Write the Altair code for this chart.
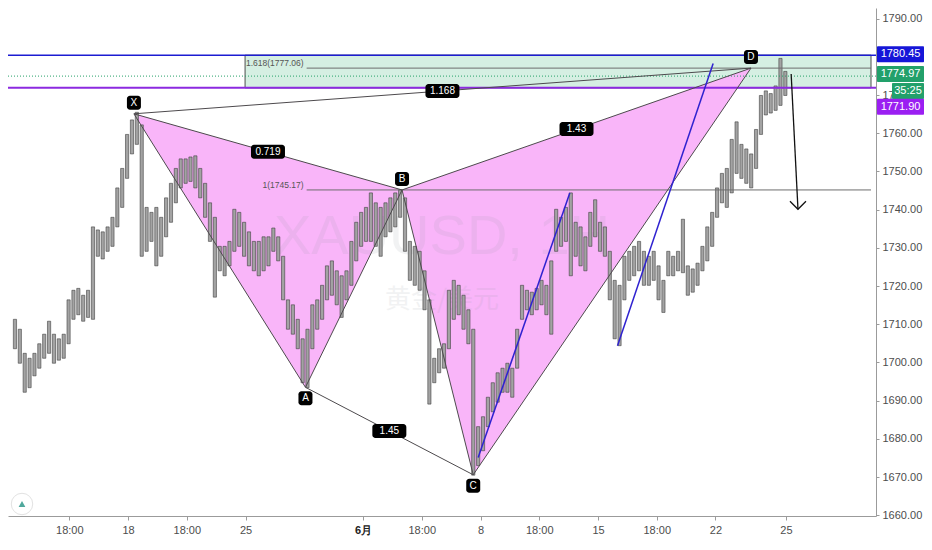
import altair as alt
import pandas as pd

# ---------------- data ----------------
# price bars (about 5 hours each); time axis in trading days, 0 = 18 May
bar_high = [1711.3, 1708.7, 1702.4, 1701.1, 1702.4, 1704.9, 1707.4, 1710.8, 1707.4, 1706.2,
            1707.4, 1716.4, 1718.9, 1719.4, 1717.6, 1718.9, 1735.5, 1734.7, 1734.2, 1735.5,
            1738.0, 1745.7, 1750.8, 1759.7, 1763.5, 1765.5, 1762.2, 1740.6, 1739.3, 1740.6,
            1738.0, 1743.1, 1746.9, 1750.8, 1753.3, 1753.3, 1753.8, 1754.1, 1750.8, 1746.9,
            1741.8, 1738.0, 1730.4, 1730.4, 1731.7, 1740.1, 1739.3, 1736.7, 1734.2, 1731.7,
            1731.7, 1732.9, 1732.9, 1735.2, 1732.9, 1727.8, 1716.4, 1715.1, 1711.3, 1706.2,
            1708.7, 1715.1, 1716.4, 1720.2, 1725.3, 1726.6, 1724.0, 1722.7, 1724.0, 1731.7,
            1736.7, 1739.3, 1740.6, 1744.4, 1741.8, 1740.6, 1741.8, 1743.1, 1744.4, 1745.2,
            1743.1, 1731.7, 1730.4, 1729.1, 1724.0, 1716.4, 1701.1, 1703.6, 1704.9, 1718.9,
            1721.5, 1720.2, 1717.6, 1713.8, 1708.7, 1683.2, 1685.8, 1690.9, 1694.7, 1697.3,
            1698.5, 1699.8, 1698.5, 1708.7, 1720.2, 1718.9, 1718.4, 1719.4, 1721.5, 1720.2,
            1726.6, 1740.1, 1738.0, 1740.6, 1744.4, 1736.7, 1735.5, 1732.9, 1739.3, 1742.6,
            1736.7, 1735.5, 1729.1, 1721.5, 1720.2, 1727.8, 1729.1, 1730.4, 1731.7, 1729.1,
            1727.8, 1729.1, 1725.3, 1721.5, 1729.1, 1727.8, 1729.1, 1737.5, 1725.3, 1724.5,
            1726.0, 1730.4, 1735.5, 1739.3, 1745.7, 1749.5, 1750.8, 1758.4, 1763.0, 1757.1,
            1755.9, 1754.6, 1761.0, 1769.9, 1771.1, 1770.4, 1772.4, 1779.6, 1776.2]
bar_low = [1703.6, 1699.8, 1692.2, 1693.4, 1696.5, 1698.5, 1701.1, 1702.4, 1699.8, 1700.6,
           1701.1, 1704.9, 1711.3, 1712.5, 1710.8, 1711.8, 1711.3, 1727.8, 1727.1, 1729.1,
           1730.4, 1735.5, 1740.6, 1748.2, 1754.6, 1757.1, 1727.8, 1729.1, 1731.7, 1725.3,
           1727.8, 1732.9, 1736.7, 1741.8, 1745.7, 1746.9, 1747.4, 1745.7, 1743.1, 1738.0,
           1731.7, 1717.1, 1724.0, 1722.7, 1725.3, 1729.1, 1730.4, 1727.8, 1725.3, 1724.0,
           1722.7, 1724.0, 1725.3, 1729.1, 1726.6, 1716.4, 1708.7, 1707.4, 1703.6, 1694.7,
           1693.4, 1703.6, 1708.7, 1711.3, 1716.4, 1717.6, 1715.1, 1711.8, 1716.4, 1720.2,
           1726.6, 1730.4, 1731.7, 1731.7, 1730.4, 1727.8, 1732.9, 1734.2, 1735.5, 1738.0,
           1729.1, 1721.5, 1720.2, 1718.9, 1713.8, 1689.1, 1694.7, 1697.3, 1698.5, 1703.6,
           1711.3, 1712.5, 1708.7, 1704.9, 1670.5, 1673.0, 1676.9, 1683.2, 1687.1, 1689.6,
           1692.2, 1692.2, 1690.9, 1698.5, 1711.3, 1713.8, 1712.5, 1713.8, 1715.1, 1712.5,
           1707.4, 1729.1, 1730.4, 1731.7, 1722.7, 1727.8, 1725.3, 1724.0, 1730.4, 1732.9,
           1729.1, 1727.8, 1716.4, 1706.2, 1704.4, 1716.4, 1721.5, 1722.7, 1724.0, 1720.2,
           1720.2, 1721.5, 1716.4, 1713.1, 1722.7, 1722.7, 1724.0, 1723.5, 1717.6, 1718.4,
           1720.2, 1724.0, 1726.6, 1730.4, 1738.0, 1741.8, 1740.6, 1744.4, 1749.5, 1748.2,
           1746.9, 1745.7, 1750.8, 1759.7, 1764.8, 1765.3, 1766.0, 1767.3, 1769.9]
BAR_START = -4.813
BAR_STEP = 0.2075

pat_name = ["X", "A", "B", "C", "D"]
pat_day = [0.25, 7.55, 11.66, 14.69, 26.51]
pat_price = [1765.1, 1693.5, 1745.17, 1670.6, 1777.06]
pat_side = ["above", "below", "above", "below", "above"]

ratio_pairs = [("X", "B"), ("A", "C"), ("B", "D"), ("X", "D")]
ratio_text = ["0.719", "1.45", "1.43", "1.168"]

fib_levels = [1745.17, 1777.06]
fib_text = ["1(1745.17)", "1.618(1777.06)"]
fib_start_day = 7.6

zone_start_day = 4.98
zone_top = 1780.45
zone_bottom = 1771.90
last_price = 1774.97
countdown = "35:25"

trend_start_day = [14.90, 20.83]
trend_start_price = [1675.1, 1704.4]
trend_end_day = [18.80, 24.90]
trend_end_price = [1744.4, 1778.3]

arrow_day = [28.22, 28.51]
arrow_price = [1775.5, 1740.1]

tick_day = [-2.5, 0, 2.5, 5, 10, 12.5, 15, 17.5, 20, 22.5, 25, 28]
tick_label = ["18:00", "18", "18:00", "25", "6月", "18:00", "8", "18:00", "15", "18:00", "22", "25"]
price_ticks = [1660, 1670, 1680, 1690, 1700, 1710, 1720, 1730, 1740, 1750, 1760, 1770, 1790]

watermark = ["XAUUSD, 1H", "黄金/美元"]

# ---------------- layout ----------------
W, H = 868, 508
X_DOM = [-4.896, 31.618]
Y_DOM = [1659.81, 1792.80]
xs = alt.Scale(domain=X_DOM, nice=False, zero=False)
ys = alt.Scale(domain=Y_DOM, nice=False, zero=False)

lab_expr = "''"
for d, l in reversed(list(zip(tick_day, tick_label))):
    lab_expr = f"datum.value == {d} ? '{l}' : ({lab_expr})"

FONT = "Liberation Sans"
x_axis = alt.Axis(values=tick_day, labelExpr=lab_expr, title=None, grid=False,
                  domainColor="#9b9b9b", tickColor="#9b9b9b", tickSize=4,
                  labelColor={"condition": {"test": "datum.value == 10", "value": "#222222"}, "value": "#4d4d4d"},
                  labelFontWeight={"condition": {"test": "datum.value == 10", "value": "bold"}, "value": "normal"},
                  labelFont=FONT, labelFontSize=11, labelPadding=4,
                  labelFlush=False, labelOverlap=False)
y_axis = alt.Axis(orient="right", values=price_ticks, format=".2f", title=None, grid=False,
                  domainColor="#9b9b9b", tickColor="#9b9b9b", tickSize=3, labelPadding=3,
                  labelFont=FONT, labelFontSize=11, labelColor="#4d4d4d",
                  labelFlush=False, labelOverlap=False)


def ex(f):
    return alt.X(f, type="quantitative", scale=xs, axis=x_axis)


def ey(f):
    return alt.Y(f, type="quantitative", scale=ys, axis=y_axis, stack=None)


# ---------------- tables ----------------
df_bars = pd.DataFrame({
    "t": [BAR_START + i * BAR_STEP for i in range(len(bar_high))],
    "hi": bar_high, "lo": bar_low,
})
P = {n: (d, p) for n, d, p in zip(pat_name, pat_day, pat_price)}
df_pts = pd.DataFrame({"name": pat_name, "t": pat_day, "p": pat_price, "side": pat_side})


def interp(a, b, t):
    (ta, pa), (tb, pb) = P[a], P[b]
    return pa + (pb - pa) * (t - ta) / (tb - ta)


tri_rows = []
for a, m, b in [("X", "A", "B"), ("B", "C", "D")]:
    name = a + m + b
    tri_rows += [
        {"tri": name, "t": P[a][0], "top": P[a][1], "bot": P[a][1]},
        {"tri": name, "t": P[m][0], "top": interp(a, b, P[m][0]), "bot": P[m][1]},
        {"tri": name, "t": P[b][0], "top": P[b][1], "bot": P[b][1]},
    ]
df_tri = pd.DataFrame(tri_rows)

edges = [("X", "A"), ("A", "B"), ("B", "C"), ("C", "D")] + ratio_pairs
df_seg = pd.DataFrame({
    "t": [P[a][0] for a, b in edges], "p": [P[a][1] for a, b in edges],
    "t2": [P[b][0] for a, b in edges], "p2": [P[b][1] for a, b in edges],
})
df_ratio = pd.DataFrame({
    "t": [(P[a][0] + P[b][0]) / 2 for a, b in ratio_pairs],
    "p": [(P[a][1] + P[b][1]) / 2 for a, b in ratio_pairs],
    "label": ratio_text,
})
df_zone = pd.DataFrame({"t": [zone_start_day], "t2": [X_DOM[1]], "top": [zone_top], "bot": [zone_bottom]})
df_fib = pd.DataFrame({"t": [fib_start_day] * 2, "t2": [X_DOM[1]] * 2, "p": fib_levels, "label": fib_text})
df_trend = pd.DataFrame({"t": trend_start_day, "p": trend_start_price, "t2": trend_end_day, "p2": trend_end_price})
df_arrow = pd.DataFrame({"t": [arrow_day[0]], "p": [arrow_price[0]], "t2": [arrow_day[1]], "p2": [arrow_price[1]]})
df_head = pd.DataFrame({"t": [arrow_day[1]], "p": [arrow_price[1]]})

# ---------------- layers ----------------
layers = []
layers.append(alt.Chart(df_zone).mark_rect(fill="#d5efe2", stroke="#4d4d4d", strokeWidth=1)
              .encode(x=ex("t"), x2="t2", y=ey("top"), y2="bot"))
layers.append(alt.Chart(df_tri).mark_area(color="#f9b5f9", opacity=1)
              .encode(x=ex("t"), y=ey("top"), y2="bot", detail="tri:N"))
layers.append(alt.Chart(pd.DataFrame({"w": [watermark[0]]}))
              .mark_text(font=FONT, fontSize=56, color="#9598a1", opacity=0.12, align="center", baseline="middle")
              .encode(x=alt.value(W / 2), y=alt.value(229), text="w:N"))
layers.append(alt.Chart(pd.DataFrame({"w": [watermark[1]]}))
              .mark_text(font="Noto Sans CJK SC", fontSize=26, color="#9598a1", opacity=0.12, align="center", baseline="middle")
              .encode(x=alt.value(W / 2), y=alt.value(292), text="w:N"))
layers.append(alt.Chart(df_bars).mark_bar(width=3.2, fill="#a3a3a3", stroke="#363636", strokeWidth=0.55)
              .encode(x=ex("t"), y=ey("hi"), y2="lo"))
layers.append(alt.Chart(pd.DataFrame({"p": [last_price]}))
              .mark_rule(color="#26a269", strokeWidth=1, strokeDash=[1, 2]).encode(y=ey("p")))
layers.append(alt.Chart(pd.DataFrame({"p": [zone_top]}))
              .mark_rule(color="#1c1cd2", strokeWidth=1.5).encode(y=ey("p")))
layers.append(alt.Chart(pd.DataFrame({"p": [zone_bottom]}))
              .mark_rule(color="#8c2ae0", strokeWidth=2).encode(y=ey("p")))
layers.append(alt.Chart(df_fib).mark_rule(color="#6e6e6e", strokeWidth=1)
              .encode(x=ex("t"), x2="t2", y=ey("p")))
layers.append(alt.Chart(df_fib).mark_text(font=FONT, fontSize=8.5, color="#555555", align="right",
                                          baseline="middle", dx=-3, dy=-5)
              .encode(x=ex("t"), y=ey("p"), text="label:N"))
layers.append(alt.Chart(df_seg).mark_rule(color="#4d4a4d", strokeWidth=1)
              .encode(x=ex("t"), y=ey("p"), x2="t2", y2="p2"))
layers.append(alt.Chart(df_trend).mark_rule(color="#2f22d0", strokeWidth=1.5)
              .encode(x=ex("t"), y=ey("p"), x2="t2", y2="p2"))
layers.append(alt.Chart(df_arrow).mark_rule(color="#111111", strokeWidth=1.3)
              .encode(x=ex("t"), y=ey("p"), x2="t2", y2="p2"))
layers.append(alt.Chart(df_head).mark_point(shape="M -1 -1 L 0 0 L 1 -1", size=256, filled=False,
                                            color="#111111", strokeWidth=1.3, opacity=1)
              .encode(x=ex("t"), y=ey("p")))

# pattern point labels
for side, off in [("above", -11), ("below", 11)]:
    layers.append(alt.Chart(df_pts).transform_filter(f"datum.side == '{side}'")
                  .mark_rect(color="#000000", cornerRadius=3, xOffset=-7, x2Offset=7,
                             yOffset=off - 7, y2Offset=off + 7)
                  .encode(x=ex("t"), x2="t", y=ey("p"), y2="p"))
    layers.append(alt.Chart(df_pts).transform_filter(f"datum.side == '{side}'")
                  .mark_text(font=FONT, fontSize=10, color="white", align="center", baseline="middle", dy=off)
                  .encode(x=ex("t"), y=ey("p"), text="name:N"))

layers.append(alt.Chart(df_ratio).mark_rect(color="#000000", cornerRadius=3, xOffset=-17, x2Offset=17,
                                            yOffset=-7, y2Offset=7)
              .encode(x=ex("t"), x2="t", y=ey("p"), y2="p"))
layers.append(alt.Chart(df_ratio).mark_text(font=FONT, fontSize=10, color="white", align="center", baseline="middle")
              .encode(x=ex("t"), y=ey("p"), text="label:N"))

# right-hand price labels: (text, price, colour, vertical shift px, left px)
RIGHT_END = 48
right_labels = [
    (f"{zone_top:.2f}", zone_top, "#1616d8", -1, 1),
    (f"{last_price:.2f}", last_price, "#22a06b", -2, 1),
    (countdown, last_price, "#22a06b", 15, 16),
    (f"{zone_bottom:.2f}", zone_bottom, "#9b1ff2", 19, 1),
]
for txt, price, col, shift, left in right_labels:
    d = pd.DataFrame({"p": [price], "label": [txt]})
    layers.append(alt.Chart(d).mark_rect(color=col, cornerRadius=1, yOffset=shift - 8, y2Offset=shift + 8)
                  .encode(x=alt.value(W + left), x2=alt.value(W + RIGHT_END), y=ey("p"), y2="p"))
    layers.append(alt.Chart(d).mark_text(font=FONT, fontSize=11, color="white", align="center",
                                         baseline="middle", dy=shift)
                  .encode(x=alt.value(W + (left + RIGHT_END) / 2), y=ey("p"), text="label:N"))

# small logo bottom-left
layers.append(alt.Chart(pd.DataFrame({"a": [0]})).mark_point(shape="circle", size=460, filled=True,
                                                            fill="white", stroke="#e2e2e2", strokeWidth=1, opacity=1)
              .encode(x=alt.value(14), y=alt.value(496)))
layers.append(alt.Chart(pd.DataFrame({"a": [0]})).mark_point(shape="triangle-up", size=45, filled=True,
                                                            color="#4fa89c", opacity=1)
              .encode(x=alt.value(14), y=alt.value(496)))

chart = alt.layer(*layers).properties(
    width=W, height=H,
    autosize=alt.AutoSizeParams(type="none"),
    padding={"left": 0, "top": 0, "right": 48, "bottom": 26},
).configure_view(stroke=None)

chart.save("out.html", embed_options={"renderer": "svg", "actions": False})
